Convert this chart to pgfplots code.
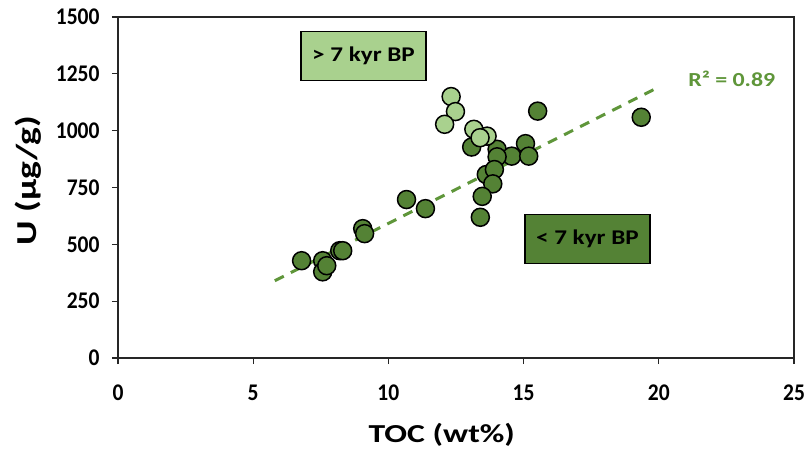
\documentclass[border=0pt]{standalone}
\usepackage{pgfplots}
\pgfplotsset{compat=1.18}
\usepackage{fontspec}
\setmainfont{Carlito}
\newfontfamily\tickf{Carlito}[FakeStretch=0.9]
\newfontfamily\labf{Carlito}[FakeStretch=1.3]
\newfontfamily\boxf{Carlito}[FakeStretch=1.2]
\definecolor{darkg}{HTML}{548235}
\definecolor{lightg}{HTML}{A9D18E}
\definecolor{lineg}{HTML}{5F963A}
\begin{document}
\begin{tikzpicture}
\begin{axis}[
  scale only axis,
  width=676bp, height=341bp,
  xmin=0, xmax=25, ymin=0, ymax=1500,
  xtick={0,5,10,15,20,25},
  ytick={0,250,500,750,1000,1250,1500},
  tick align=outside,
  tick pos=left,
  major tick length=6bp,
  axis line style={line width=1.2bp, black!85},
  every tick/.style={line width=1.2bp, black!85},
  /pgf/number format/assume math mode=true,
  /pgf/number format/1000 sep={},
  tick label style={font=\tickf\bfseries\fontsize{24}{24}\selectfont},
  xticklabel style={yshift=-17bp},
  yticklabel style={xshift=-9bp},
  xlabel={TOC (wt\%)},
  ylabel={U (µg/g)},
  xlabel style={font=\labf\bfseries\fontsize{26}{26}\selectfont, at={(axis description cs:0.479,-0.225)}, anchor=center},
  ylabel style={font=\labf\bfseries\fontsize{29}{29}\selectfont, at={(axis description cs:-0.133,0.52)}, anchor=center, rotate=0},
  clip=false,
]
\addplot[lineg, line width=3bp, dash pattern=on 10bp off 8bp] coordinates {(5.8,340) (20,1192)};
\addplot[only marks, mark=*, mark size=9bp, mark options={fill=darkg, draw=black, line width=1.5bp}] coordinates {
(6.79,428) (7.57,428) (7.57,379) (7.72,406) (8.20,472) (8.31,472)
(9.05,569) (9.12,547) (10.67,697) (11.37,657) (13.08,928) (14.02,918)
(14.56,888) (15.07,943) (15.19,888) (14.02,885) (13.62,807) (13.92,829)
(13.86,766) (13.47,711) (13.40,619) (15.52,1086) (19.35,1059)
};
\addplot[only marks, mark=*, mark size=9bp, mark options={fill=lightg, draw=black, line width=1.5bp}] coordinates {
(12.32,1150) (12.48,1084) (12.08,1028) (13.16,1006) (13.65,976) (13.39,969)
};
\node[draw=black, line width=1.2bp, fill=lightg, minimum width=125bp, minimum height=49bp, font=\boxf\bfseries\fontsize{21}{21}\selectfont] at (axis cs:9.08,1328) {> 7 kyr BP};
\node[draw=black, line width=1.2bp, fill=darkg, minimum width=125bp, minimum height=49bp, font=\boxf\bfseries\fontsize{21}{21}\selectfont] at (axis cs:17.36,525) {< 7 kyr BP};
\node[text=lineg, font=\boxf\bfseries\fontsize{20}{20}\selectfont] at (axis cs:22.7,1226) {R² = 0.89};
\draw[line width=1.2bp, black!85] (rel axis cs:0,1) -- (rel axis cs:1,1) -- (rel axis cs:1,0);
\end{axis}
\path ([xshift=-118bp,yshift=-96bp]current axis.south west) rectangle ([xshift=16bp,yshift=17bp]current axis.north east);
\end{tikzpicture}
\end{document}
